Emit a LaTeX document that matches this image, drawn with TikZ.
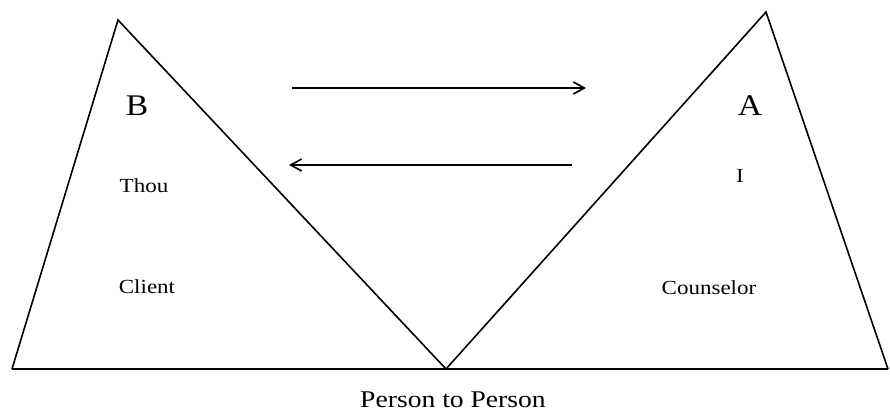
\documentclass[tikz,border=0pt]{standalone}
\usepackage{fontspec}
\setmainfont{Liberation Serif}
\usetikzlibrary{arrows.meta}
\tikzset{
  edge/.style={line width=1.6pt, line join=miter},
  flow/.style={line width=1.6pt, -{Straight Barb[length=11pt,width=12pt,line width=1.6pt]}},
  biglabel/.style={font=\fontsize{30}{34}\selectfont, inner sep=0pt, anchor=base},
  lbl/.style={font=\fontsize{20}{24}\selectfont, inner sep=0pt, anchor=base},
  captionlbl/.style={font=\fontsize{24}{28}\selectfont, inner sep=0pt, anchor=base},
}
\begin{document}
\begin{tikzpicture}[x=1pt,y=-1pt]
\useasboundingbox (0,0) rectangle (890,412);
% vertices
\coordinate (L) at (12,369);
\coordinate (Bapex) at (118,20);
\coordinate (V) at (446,369);
\coordinate (Aapex) at (766,12);
\coordinate (R) at (888,369);
\draw[edge] (L) -- (Bapex) -- (V) -- (Aapex) -- (R);
\draw[edge] (L) -- (R);
% arrows
\coordinate (t1) at (292,88);
\coordinate (t2) at (586,88);
\coordinate (b1) at (572,165);
\coordinate (b2) at (289,165);
\draw[flow] (t1) -- (t2);
\draw[flow] (b1) -- (b2);
% labels
\node[biglabel] (B) at (137,115) {\scalebox{1.12}[1]{B}};
\node[biglabel] (A) at (750,115) {\scalebox{1.12}[1]{A}};
\node[lbl] (thou) at (144,192) {\scalebox{1.15}[1]{Thou}};
\node[lbl] (client) at (147,293) {\scalebox{1.15}[1]{Client}};
\node[lbl] (I) at (740,182) {\scalebox{1.15}[1]{I}};
\node[lbl] (couns) at (709,294) {\scalebox{1.15}[1]{Counselor}};
\node[captionlbl] (p2p) at (453,407) {\scalebox{1.15}[1]{Person to Person}};
\end{tikzpicture}
\end{document}
